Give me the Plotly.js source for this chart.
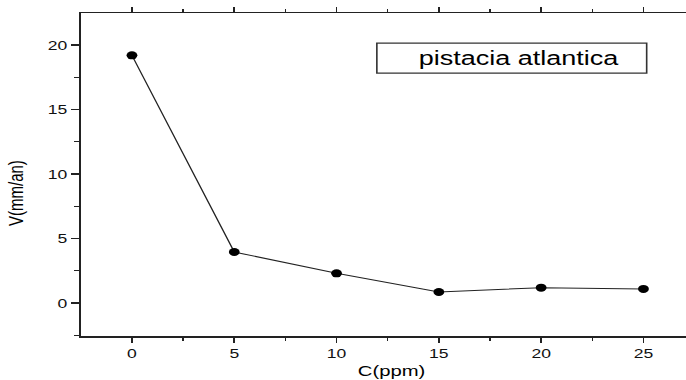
<!DOCTYPE html>
<html>
<head>
<meta charset="utf-8">
<script src="https://cdn.plot.ly/plotly-3.0.1.min.js"></script>
<style>
  html, body { margin: 0; padding: 0; overflow: hidden; background: #fff; }
  #plot { width: 508px; height: 380px; transform: scaleX(1.3504); transform-origin: 0 0; }
</style>
</head>
<body>
<div id="plot"></div>
<script>
const concentration = [0, 5, 10, 15, 20, 25];
const corrosionRate = [19.2, 3.95, 2.3, 0.85, 1.19, 1.09];
const xTickValues = [0, 5, 10, 15, 20, 25];
const yTickValues = [0, 5, 10, 15, 20];
const seriesName = 'pistacia atlantica';
const xTitle = 'C(ppm)';
const yTitle = 'V(mm/an)';

const font = 'Arial, "Liberation Sans", sans-serif';

const trace = {
  x: concentration,
  y: corrosionRate,
  mode: 'lines+markers',
  type: 'scatter',
  name: seriesName,
  line: { color: '#222', width: 1 },
  marker: { color: '#000', size: 8, symbol: 'circle' },
  showlegend: false
};

const layout = {
  width: 508,
  height: 380,
  margin: { l: 60, r: 0, t: 13, b: 44 },
  paper_bgcolor: '#fff',
  plot_bgcolor: '#fff',
  font: { family: font, color: '#000', size: 13 },
  xaxis: {
    range: [-2.49, 27.08],
    tickvals: xTickValues,
    ticktext: xTickValues.map(String),
    showgrid: false,
    zeroline: false,
    showline: true,
    linecolor: '#222',
    linewidth: 1.5,
    mirror: 'ticks',
    ticks: 'outside',
    ticklen: 5,
    tickwidth: 1.2,
    tickcolor: '#222',
    tickfont: { family: font, size: 13, color: '#111' },
    minor: { dtick: 2.5, tick0: 0, ticks: 'outside', ticklen: 3, tickwidth: 1, tickcolor: '#222' }
  },
  yaxis: {
    range: [-2.56, 22.48],
    tickvals: yTickValues,
    ticktext: yTickValues.map(String),
    showgrid: false,
    zeroline: false,
    showline: true,
    linecolor: '#222',
    linewidth: 1.5,
    ticks: 'outside',
    ticklen: 6,
    tickwidth: 1.2,
    tickcolor: '#222',
    tickfont: { family: font, size: 13, color: '#111' },
    minor: { dtick: 2.5, tick0: 0, ticks: 'outside', ticklen: 3.5, tickwidth: 1, tickcolor: '#222' }
  },
  shapes: [{
    type: 'rect', xref: 'paper', yref: 'paper',
    x0: 0.489, x1: 0.935, y0: 0.814, y1: 0.907,
    line: { color: '#333', width: 1.2 }, fillcolor: '#fff'
  }],
  annotations: [
    {
      text: seriesName, xref: 'paper', yref: 'paper',
      x: 0.725, y: 0.861, xanchor: 'center', yanchor: 'middle',
      showarrow: false, font: { family: font, size: 20, color: '#000' }
    },
    {
      text: xTitle, xref: 'paper', yref: 'paper',
      x: 0.514, y: -0.108, xanchor: 'center', yanchor: 'middle',
      showarrow: false, font: { family: font, size: 15, color: '#000' }
    },
    {
      text: yTitle, xref: 'paper', yref: 'paper', textangle: -90,
      x: -0.107, y: 0.443, xanchor: 'center', yanchor: 'middle',
      showarrow: false, font: { family: font, size: 15, color: '#000' }
    }
  ]
};

Plotly.newPlot('plot', [trace], layout, { staticPlot: true, displayModeBar: false });
</script>
</body>
</html>
